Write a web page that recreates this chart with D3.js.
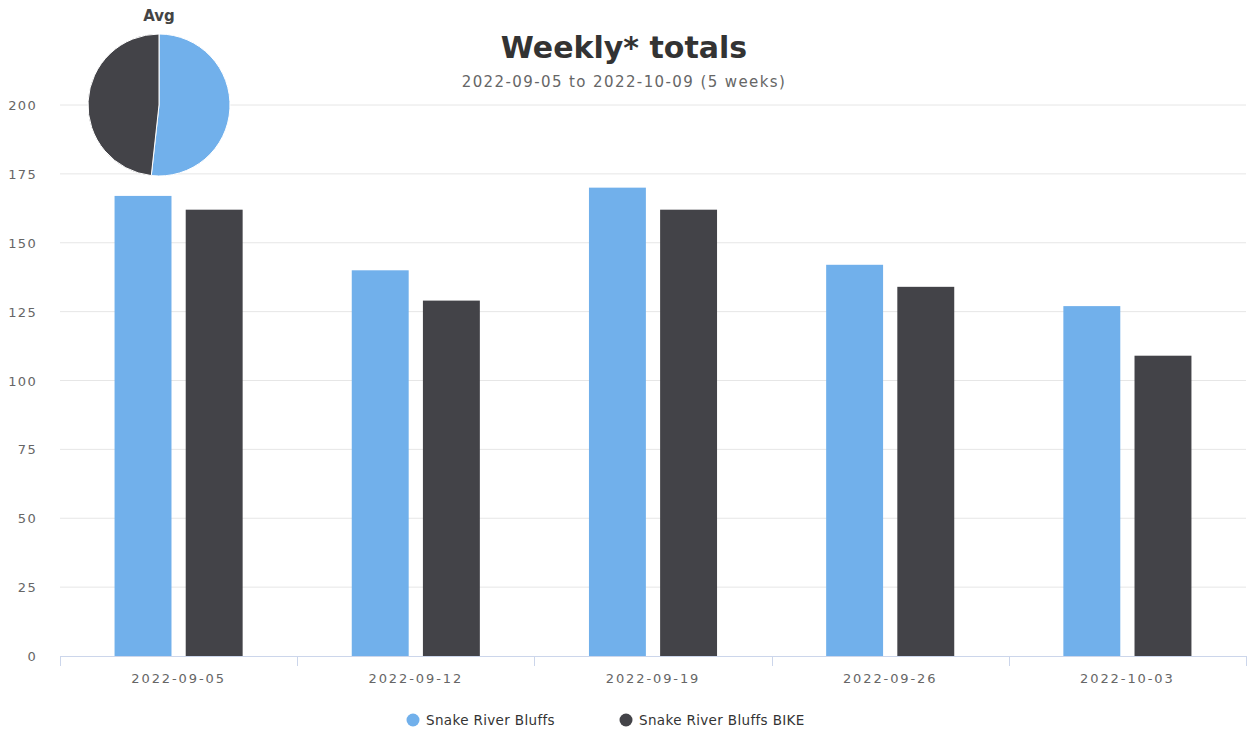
<!DOCTYPE html>
<html>
<head>
<meta charset="utf-8">
<script src="https://cdn.jsdelivr.net/npm/d3@7"></script>
<style>
  html, body { margin: 0; padding: 0; background: #fff; }
  svg { display: block; font-family: "DejaVu Sans", Verdana, sans-serif; }
</style>
</head>
<body>
<svg id="chart" width="1257" height="731"></svg>
<script>
// Weekly counts per counter
const weeks = ["2022-09-05", "2022-09-12", "2022-09-19", "2022-09-26", "2022-10-03"];
const seriesNames = ["Snake River Bluffs", "Snake River Bluffs BIKE"];
const bluffs = [167, 140, 170, 142, 127];
const bluffsBike = [162, 129, 162, 134, 109];
const yTicks = [0, 25, 50, 75, 100, 125, 150, 175, 200];
const colors = ["#71b0eb", "#434348"];

const titleText = "Weekly* totals";
const subtitleText = "2022-09-05 to 2022-10-09 (5 weeks)";
const pieTitle = "Avg";

const svg = d3.select("#chart");
const plot = { left: 60, right: 1246, top: 105, bottom: 656 };

const x0 = d3.scaleBand().domain(weeks).range([plot.left, plot.right]).padding(0);
const bw = x0.bandwidth();
const x1 = d3.scaleBand().domain(seriesNames)
  .range([0.2 * bw, 0.8 * bw]).paddingInner(0.2).paddingOuter(0.1);
const y = d3.scaleLinear().domain([0, 200]).range([plot.bottom, plot.top]);

// horizontal grid lines
svg.append("g").selectAll("line")
  .data(yTicks.filter(d => d > 0))
  .join("line")
  .attr("x1", plot.left).attr("x2", plot.right)
  .attr("y1", d => y(d)).attr("y2", d => y(d))
  .attr("stroke", "#e6e6e6").attr("stroke-width", 1);

// y-axis labels
const yAxis = d3.axisLeft(y).tickValues(yTicks).tickSize(0).tickPadding(0);
const yg = svg.append("g").attr("transform", "translate(37,0)").call(yAxis);
yg.select(".domain").remove();
yg.selectAll("text")
  .attr("fill", "#666").attr("font-size", 13).attr("letter-spacing", 1.3)
  .attr("font-family", "DejaVu Sans").attr("dy", "0.35em");

// bars
const series = [bluffs, bluffsBike];
series.forEach((vals, si) => {
  svg.append("g").selectAll("rect")
    .data(vals)
    .join("rect")
    .attr("x", (d, i) => x0(weeks[i]) + x1(seriesNames[si]))
    .attr("width", x1.bandwidth())
    .attr("y", d => y(d))
    .attr("height", d => y(0) - y(d))
    .attr("fill", colors[si]);
});

// x axis with tick marks on category boundaries
const xg = svg.append("g").attr("transform", `translate(0,${plot.bottom})`);
xg.append("line")
  .attr("x1", plot.left).attr("x2", plot.right)
  .attr("y1", 0.5).attr("y2", 0.5)
  .attr("stroke", "#ccd6eb");
const bounds = weeks.map(w => x0(w)).concat([plot.right]);
xg.selectAll("line.tick")
  .data(bounds)
  .join("line")
  .attr("class", "tick")
  .attr("x1", d => Math.round(d) + 0.5).attr("x2", d => Math.round(d) + 0.5)
  .attr("y1", 0).attr("y2", 10)
  .attr("stroke", "#ccd6eb");
xg.selectAll("text")
  .data(weeks)
  .join("text")
  .attr("x", d => x0(d) + bw / 2)
  .attr("y", 27)
  .attr("text-anchor", "middle")
  .attr("fill", "#666").attr("font-size", 13).attr("letter-spacing", 1.9)
  .text(d => d);

// titles
svg.append("text")
  .attr("x", 624).attr("y", 58)
  .attr("text-anchor", "middle")
  .attr("font-size", 30).attr("font-weight", "bold").attr("fill", "#333")
  .text(titleText);
svg.append("text")
  .attr("x", 624).attr("y", 87)
  .attr("text-anchor", "middle")
  .attr("font-size", 15).attr("letter-spacing", 1.4).attr("fill", "#666")
  .text(subtitleText);

// average pie
const avgs = series.map(v => d3.mean(v));
const pie = d3.pie().sort(null).value(d => d)(avgs);
const arc = d3.arc().innerRadius(0).outerRadius(71);
const pg = svg.append("g").attr("transform", "translate(159,105)");
pg.selectAll("path")
  .data(pie)
  .join("path")
  .attr("d", arc)
  .attr("fill", (d, i) => colors[i])
  .attr("stroke", "#fff").attr("stroke-width", 1);
svg.append("text")
  .attr("x", 159).attr("y", 21)
  .attr("text-anchor", "middle")
  .attr("font-size", 15).attr("font-weight", "bold").attr("fill", "#444")
  .text(pieTitle);

// legend
const legendX = [413, 626];
const lg = svg.append("g");
seriesNames.forEach((name, i) => {
  lg.append("circle")
    .attr("cx", legendX[i]).attr("cy", 720).attr("r", 6.5)
    .attr("fill", colors[i]);
  lg.append("text")
    .attr("x", legendX[i] + 13).attr("y", 725)
    .attr("font-size", 13.5).attr("letter-spacing", 0.35).attr("fill", "#333")
    .text(name);
});
</script>
</body>
</html>
